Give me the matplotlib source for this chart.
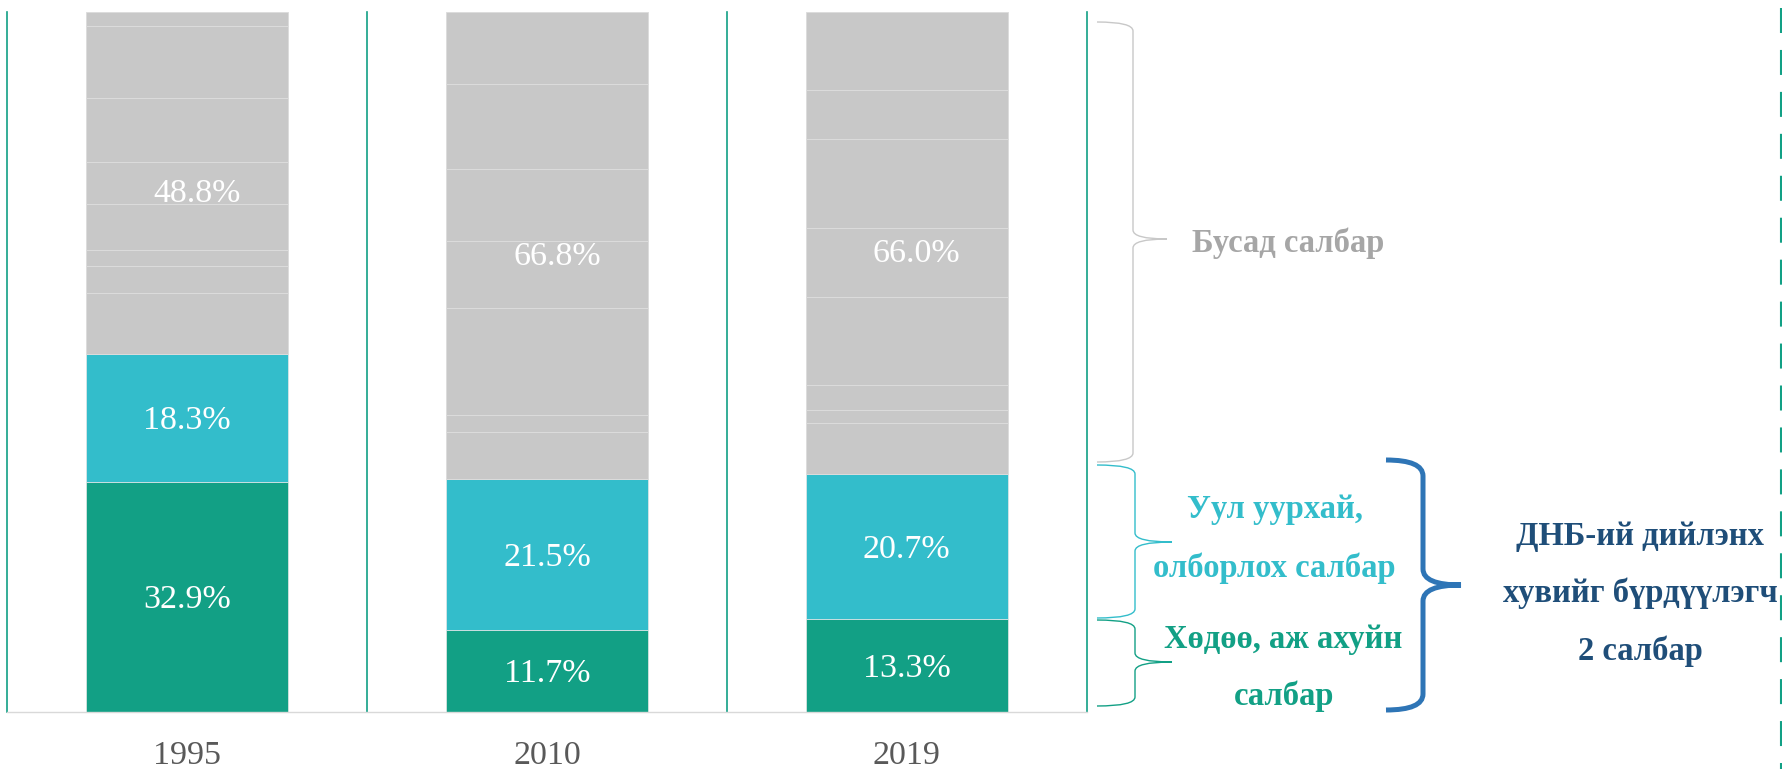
import matplotlib
matplotlib.use("Agg")
import matplotlib.pyplot as plt
from matplotlib.path import Path
from matplotlib.patches import PathPatch

# ---------------- data ----------------
years = ["1995", "2010", "2019"]
agriculture = [32.9, 11.7, 13.3]          # Хөдөө, аж ахуйн салбар
mining = [18.3, 21.5, 20.7]               # Уул уурхай, олборлох салбар
other_total = [48.8, 66.8, 66.0]          # Бусад салбар
other_parts = [
    [8.6, 3.9, 2.3, 6.6, 6.0, 9.1, 10.3, 2.0],        # 1995
    [6.8, 2.4, 15.3, 9.6, 10.3, 12.2, 10.2],          # 2010
    [7.3, 1.9, 3.5, 12.6, 9.9, 12.7, 7.0, 11.1],      # 2019
]

# ---------------- style ----------------
C_GREEN = "#12a085"
C_CYAN = "#33bdcb"
C_GRAY = "#c8c8c8"
C_NAVY = "#1f4e79"
C_BLUE = "#2e75b6"
SERIF = "Liberation Serif"
plt.rcParams["lines.scale_dashes"] = False

W, H = 1782, 769
fig = plt.figure(figsize=(W / 100, H / 100), dpi=100)
ax = fig.add_axes([7.3 / W, 1 - 711.7 / H, (1086.7 - 7.3) / W, (711.7 - 12.3) / H])

bw = 0.56
x = list(range(len(years)))
for i in x:
    ax.bar(i, agriculture[i], bw, color=C_GREEN, edgecolor="#e6e6e6", linewidth=0.5, zorder=2)
    ax.bar(i, mining[i], bw, bottom=agriculture[i], color=C_CYAN,
           edgecolor="#e6e6e6", linewidth=0.5, zorder=2)
    b = agriculture[i] + mining[i]
    for p in other_parts[i]:
        ax.bar(i, p, bw, bottom=b, color=C_GRAY, edgecolor="#dcdcdc", linewidth=0.7, zorder=2)
        b += p

    lab_kw = dict(color="white", fontsize=24.5, family=SERIF, ha="center",
                  va="baseline", textcoords="offset pixels", zorder=5)
    ax.annotate(f"{agriculture[i]:.1f}%", (i, agriculture[i] / 2), xytext=(0, -11.5), **lab_kw)
    ax.annotate(f"{mining[i]:.1f}%", (i, agriculture[i] + mining[i] / 2), xytext=(0, -11.5), **lab_kw)
    ax.annotate(f"{other_total[i]:.1f}%",
                (i, agriculture[i] + mining[i] + other_total[i] / 2),
                xytext=(10, -19), **lab_kw)

# vertical separators
for xv in [-0.5, 0.5, 1.5, 2.5]:
    ax.axvline(xv, color=C_GREEN, linewidth=1.2, zorder=1, clip_on=False)

ax.set_xlim(-0.5, 2.5)
ax.set_ylim(0, 100)
ax.set_yticks([])
ax.set_xticks(x)
ax.set_xticklabels(years, family=SERIF, fontsize=24.5, color="#595959")
ax.tick_params(axis="x", length=0, pad=21)
for s in ["top", "left", "right"]:
    ax.spines[s].set_visible(False)
ax.spines["bottom"].set_color("#d9d9d9")
ax.spines["bottom"].set_linewidth(1.0)
ax.patch.set_alpha(0)

# ---------------- overlay for braces & annotations (pixel coords) ----------------
axo = fig.add_axes([0, 0, 1, 1])
axo.set_xlim(0, W)
axo.set_ylim(H, 0)
axo.axis("off")
axo.patch.set_alpha(0)


def brace(x_end, x_mid, x_tip, y_top, y_tip, y_bot, r, color, lw):
    verts = [(x_end, y_top), (x_mid, y_top), (x_mid, y_top + r),
             (x_mid, y_tip - r), (x_mid, y_tip), (x_tip, y_tip),
             (x_mid, y_tip), (x_mid, y_tip + r),
             (x_mid, y_bot - r), (x_mid, y_bot), (x_end, y_bot)]
    codes = [Path.MOVETO, Path.CURVE3, Path.CURVE3,
             Path.LINETO, Path.CURVE3, Path.CURVE3,
             Path.CURVE3, Path.CURVE3,
             Path.LINETO, Path.CURVE3, Path.CURVE3]
    axo.add_patch(PathPatch(Path(verts, codes), facecolor="none",
                            edgecolor=color, linewidth=lw, capstyle="butt"))


brace(1097, 1133, 1167, 22, 239, 462, 9, "#c8c8c8", 1.0)
brace(1097, 1135, 1172, 465, 542, 618, 9, C_CYAN, 1.0)
brace(1097, 1135, 1172, 620, 662, 706, 9, C_GREEN, 1.0)
brace(1386, 1423, 1461, 460, 585, 710, 16, C_BLUE, 3.6)

tkw = dict(family=SERIF, fontweight="bold", fontsize=23.5, va="baseline")
axo.text(1192, 252, "Бусад салбар", color="#a6a6a6", ha="left", **tkw)
axo.text(1275, 518, "Уул уурхай,", color=C_CYAN, ha="center", **tkw)
axo.text(1274, 577, "олборлох салбар", color=C_CYAN, ha="center", **tkw)
axo.text(1283, 648, "Хөдөө, аж ахуйн", color=C_GREEN, ha="center", **tkw)
axo.text(1284, 705, "салбар", color=C_GREEN, ha="center", **tkw)
axo.text(1640, 545, "ДНБ-ий дийлэнх", color=C_NAVY, ha="center", **tkw)
axo.text(1640, 602, "хувийг бүрдүүлэгч", color=C_NAVY, ha="center", **tkw)
axo.text(1640, 660, "2 салбар", color=C_NAVY, ha="center", **tkw)

# dashed frame edge at the right
axo.plot([1780.8, 1780.8], [8, H], color=C_GREEN, linewidth=1.5,
         linestyle=(0, (18, 12.2)))

fig.savefig("out.png", dpi=100)
